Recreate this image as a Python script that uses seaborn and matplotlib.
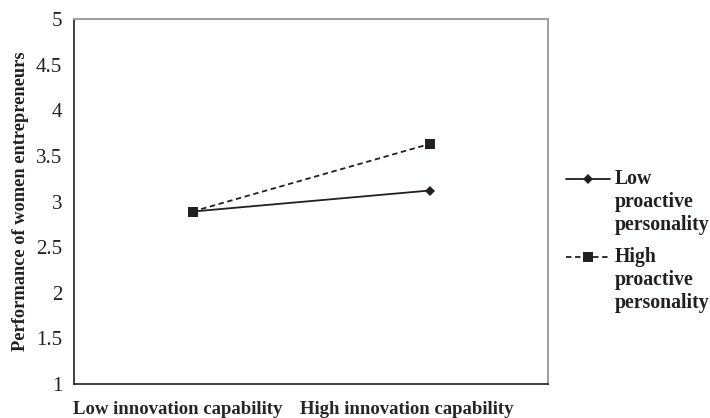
import matplotlib
matplotlib.use("Agg")
import matplotlib.pyplot as plt
import numpy as np
import pandas as pd
import seaborn as sns
from matplotlib.legend_handler import HandlerLine2D
from matplotlib.lines import Line2D
from matplotlib.transforms import ScaledTranslation

# values
categories = ["Low innovation capability", "High innovation capability"]
low_proactive = [2.89, 3.12]
high_proactive = [2.89, 3.63]
series_names = ["Low\nproactive\npersonality", "High\nproactive\npersonality"]
y_ticks = [1, 1.5, 2, 2.5, 3, 3.5, 4, 4.5, 5]
y_tick_labels = ["1", "1.5", "2", "2.5", "3", "3.5", "4", "4.5", "5"]

INK = "#231f20"
LEGEND_SIZE = 14.2


class TopLineHandler(HandlerLine2D):
    """Legend handle aligned with the first line of a multi-line label."""

    def __init__(self, shift, **kw):
        super().__init__(**kw)
        self.shift = shift

    def create_artists(self, legend, orig_handle, xdescent, ydescent,
                       width, height, fontsize, trans):
        artists = super().create_artists(legend, orig_handle, xdescent, ydescent,
                                         width, height, fontsize, trans)
        for a in artists:
            a.set_ydata(np.asarray(a.get_ydata()) + self.shift)
        return artists


sns.set_theme(style="white")
plt.rcParams["font.family"] = ["Liberation Serif", "DejaVu Serif"]

df = pd.DataFrame({
    "capability": categories * 2,
    "performance": low_proactive + high_proactive,
    "group": [series_names[0]] * 2 + [series_names[1]] * 2,
})

fig = plt.figure(figsize=(7.1, 4.18), dpi=100)
ax = fig.add_axes([74 / 710, 1 - 384 / 418, 474 / 710, 365 / 418])

sns.lineplot(
    data=df, x="capability", y="performance",
    hue="group", style="group",
    palette=[INK, INK],
    markers={series_names[0]: "D", series_names[1]: "s"},
    dashes={series_names[0]: "", series_names[1]: (3, 2)},
    markersize=7, linewidth=1.3, markeredgewidth=0,
    ax=ax,
)
for line in ax.lines:
    if line.get_marker() == "D":
        line.set_markersize(5.5)

ax.set_xlim(-0.5, 1.5)
ax.set_ylim(1, 5)
ax.set_yticks(y_ticks)
ax.set_yticklabels(y_tick_labels, fontsize=15)

# ticks at category boundaries, labels near category centres
ax.set_xticks([-0.5, 0.5, 1.5])
ax.set_xticklabels([])
ax.set_xticks([0, 1], minor=True)
ax.set_xticklabels(categories, minor=True, fontsize=13.5, fontweight="bold")
ax.tick_params(axis="x", which="minor", length=0, pad=12)
ax.tick_params(axis="x", which="major", length=5, width=1, direction="out", color=INK)
ax.tick_params(axis="y", length=4.5, width=1, direction="out", color=INK, pad=4)
ax.tick_params(labelcolor=INK)
for lab, dx in zip(ax.get_xticklabels(minor=True), [-15, -23]):
    lab.set_transform(lab.get_transform() + ScaledTranslation(dx / 100, 0, fig.dpi_scale_trans))

ax.set_xlabel("")
ax.set_ylabel("Performance of women entrepreneurs", fontsize=13.2,
              fontweight="bold", color=INK, labelpad=5)

for side in ["left", "bottom"]:
    ax.spines[side].set_color(INK)
    ax.spines[side].set_linewidth(1.2)
for side in ["top", "right"]:
    ax.spines[side].set_color("#a0a0a0")
    ax.spines[side].set_linewidth(1.5)

handles, labels = ax.get_legend_handles_labels()
leg = ax.legend(
    handles, labels, loc="upper left", bbox_to_anchor=(1.022, 0.61),
    frameon=False, handlelength=2.2, handletextpad=0.25,
    labelspacing=0.6, borderaxespad=0,
    prop={"weight": "bold", "size": LEGEND_SIZE},
    handler_map={Line2D: TopLineHandler(1.2 * LEGEND_SIZE)},
)
for t in leg.get_texts():
    t.set_color(INK)

fig.savefig("out.png", dpi=100)
